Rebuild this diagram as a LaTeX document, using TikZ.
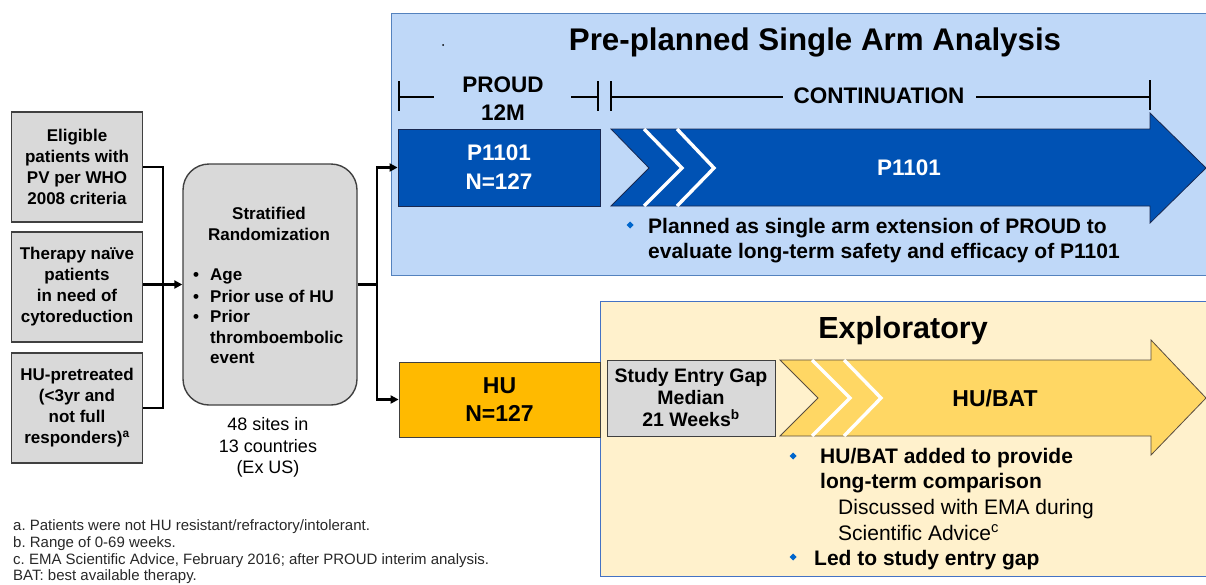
\documentclass[tikz,border=0pt]{standalone}
\usepackage{fontspec}
\setmainfont{Liberation Sans}
\usetikzlibrary{arrows.meta}
\frenchspacing
\definecolor{panelblue}{RGB}{191,216,248}
\definecolor{paneledge}{RGB}{84,130,190}
\definecolor{armblue}{RGB}{0,82,180}
\definecolor{armedge}{RGB}{25,40,80}
\definecolor{cream}{RGB}{255,241,204}
\definecolor{creamedge}{RGB}{68,114,196}
\definecolor{huorange}{RGB}{255,186,0}
\definecolor{batyellow}{RGB}{255,215,100}
\definecolor{boxgray}{RGB}{217,217,217}
\definecolor{boxedge}{RGB}{64,64,64}
\definecolor{dotblue}{RGB}{0,102,204}
\definecolor{notegray}{RGB}{40,40,40}
\newcommand\fsz[2]{\fontsize{#1}{#2}\selectfont}
\begin{document}
\begin{tikzpicture}[x=1pt,y=-1pt,
  graybox/.style={draw=boxedge, line width=1.6pt, fill=boxgray, minimum width=131pt,
    minimum height=110pt, align=center, inner sep=0pt, font=\bfseries\fsz{17}{21}},
  ln/.style={anchor=base west, inner sep=0pt},
  lnc/.style={anchor=base, inner sep=0pt},
  conn/.style={line width=2.4pt},
  tipped/.style={conn, -{Triangle[length=8pt,width=8pt]}},
  bar/.style={line width=2.8pt},
  chev/.style={white, line width=3.4pt},
  bdot/.style={fill=dotblue}]
\useasboundingbox (0,0) rectangle (1206,584);

% ---------- eligibility boxes ----------
\node[graybox] (e1) at (77,167) {Eligible\\patients with\\PV per WHO\\2008 criteria};
\node[graybox] (e2) at (77,287) {Therapy naïve\\patients\\in need of\\cytoreduction};
\node[graybox] (e3) at (77,408) {HU-pretreated\\(<3yr and\\not full\\responders)\textsuperscript{a}};

% ---------- stratified randomization ----------
\node[draw=boxedge, line width=1.4pt, fill=boxgray, rounded corners=26pt,
      minimum width=174pt, minimum height=241pt, inner sep=0pt] (rand) at (270,284.5) {};
\node[lnc, font=\bfseries\fsz{17}{21}] (st1) at (269,219) {Stratified};
\node[lnc, font=\bfseries\fsz{17}{21}] (st2) at (269,240) {Randomization};
\begin{scope}[font=\bfseries\fsz{17}{21}]
  \node[ln] (b1) at (193,280) {•};
  \node[ln] (b2) at (193,302) {•};
  \node[ln] (b3) at (193,322) {•};
  \node[ln] (s1) at (210,280) {Age};
  \node[ln] (s2) at (210,302) {Prior use of HU};
  \node[ln] (s3) at (210,322) {Prior};
  \node[ln] (s4) at (210,343) {thromboembolic};
  \node[ln] (s5) at (210,363) {event};
\end{scope}
\node[lnc, font=\fsz{18}{21.5}] (site1) at (268,430) {48 sites in};
\node[lnc, font=\fsz{18}{21.5}] (site2) at (268,452) {13 countries};
\node[lnc, font=\fsz{18}{21.5}] (site3) at (268,473) {(Ex US)};

% ---------- panels ----------
\path[fill=panelblue, draw=paneledge, line width=1pt] (391,13) rectangle (1210,275);
\path[fill=cream, draw=creamedge, line width=1pt] (600,301) rectangle (1210,576);

\node[lnc, font=\bfseries\fsz{31.3}{36}] (t1) at (815,50) {Pre-planned Single Arm Analysis};
\fill (443,45) circle (1pt);
\node[lnc, font=\bfseries\fsz{30.5}{36}] (t2) at (903,338) {Exploratory};

% timeline brackets
\node[lnc, font=\bfseries\fsz{22.5}{28}] (proud) at (503,92) {PROUD};
\node[lnc, font=\bfseries\fsz{22.5}{28}] (m12) at (503,120) {12M};
\node[lnc, font=\bfseries\fsz{22.5}{28}] (cont) at (879,103) {CONTINUATION};
\draw[bar] (399,81) -- (399,111);
\draw[bar] (399,97) -- (434,97);
\draw[bar] (571,97) -- (598,97);
\draw[bar] (598,81) -- (598,111);
\draw[bar] (611,81) -- (611,111);
\draw[bar] (611,97) -- (783,97);
\draw[bar] (976,97) -- (1150,97);
\draw[bar] (1150,80) -- (1150,110);

% ---------- P1101 arm ----------
\node[draw=armedge, line width=0.8pt, fill=armblue, minimum width=202pt, minimum height=77pt,
      inner sep=0pt, text=white, align=center, font=\bfseries\fsz{22.5}{29}] (p1) at (499,167.5) {P1101\\N=127};
\path[fill=armblue, draw=armedge, line width=0.8pt]
  (611,129) -- (1150,129) -- (1150,113) -- (1206,168) -- (1150,223) -- (1150,206)
  -- (611,206) -- (649,168) -- cycle;
\draw[chev] (644,129) -- (682,168) -- (644,206);
\draw[chev] (677,129) -- (714,168) -- (677,206);
\node[font=\bfseries\fsz{22.5}{28}, text=white] (p2) at (909,168) {P1101};

\path[bdot] (630,225) +(-3.5,0) -- +(0,-3.5) -- +(3.5,0) -- +(0,3.5) -- cycle;
\node[ln, font=\bfseries\fsz{21}{25}] (pl1) at (648,233) {Planned as single arm extension of PROUD to};
\node[ln, font=\bfseries\fsz{21}{25}] (pl2) at (648,258) {evaluate long-term safety and efficacy of P1101};

% ---------- HU arm ----------
\node[draw=boxedge, line width=0.8pt, fill=huorange, minimum width=201pt, minimum height=75pt,
      inner sep=0pt, align=center, font=\bfseries\fsz{23}{28}] (hu) at (499.5,399.5) {HU\\N=127};
\node[draw=boxedge, line width=1pt, fill=boxgray, minimum width=168pt, minimum height=76pt,
      inner sep=0pt, align=center, font=\bfseries\fsz{19.5}{22}] (gap) at (691,398)
      {Study Entry Gap\\Median\\21 Weeks\textsuperscript{b}};
\path[fill=batyellow, draw=boxedge!80!brown, line width=0.8pt]
  (780,360) -- (1151,360) -- (1151,340) -- (1206,398) -- (1151,455) -- (1151,436)
  -- (780,436) -- (818,398) -- cycle;
\draw[chev] (812,360) -- (850,398) -- (812,436);
\draw[chev] (844,360) -- (881,398) -- (844,436);
\node[font=\bfseries\fsz{23}{28}] (bat) at (995,398) {HU/BAT};

\path[bdot] (793,456) +(-3.5,0) -- +(0,-3.5) -- +(3.5,0) -- +(0,3.5) -- cycle;
\path[bdot] (793,557) +(-3.5,0) -- +(0,-3.5) -- +(3.5,0) -- +(0,3.5) -- cycle;
\node[ln, font=\bfseries\fsz{21}{25}] (h1) at (820,463) {HU/BAT added to provide};
\node[ln, font=\bfseries\fsz{21}{25}] (h2) at (820,488) {long-term comparison};
\node[ln, font=\fsz{21}{25}] (h3) at (838,514) {Discussed with EMA during};
\node[ln, font=\fsz{21}{25}] (h4) at (838,540) {Scientific Advice\textsuperscript{c}};
\node[ln, font=\bfseries\fsz{21}{25}] (h5) at (814,565) {Led to study entry gap};

% ---------- connectors ----------
\coordinate (jl) at (163,284.5);
\coordinate (jr) at (377,284.5);
\draw[conn] (e1.east) -| (jl);
\draw[conn] (e3.east) -| (jl);
\draw[tipped] (e2.east |- rand.west) -- (rand.west);
\draw[conn] (rand.east) -- (jr);
\draw[tipped] (jr) |- (p1.west);
\draw[tipped] (jr) |- (hu.west);

% ---------- footnotes ----------
\begin{scope}[font=\fsz{15}{17}, text=notegray]
  \node[ln] (f1) at (13,530) {a. Patients were not HU resistant/refractory/intolerant.};
  \node[ln] (f2) at (13,547) {b. Range of 0-69 weeks.};
  \node[ln] (f3) at (13,564) {c. EMA Scientific Advice, February 2016; after PROUD interim analysis.};
  \node[ln] (f4) at (13,580.5) {BAT: best available therapy.};
\end{scope}
\end{tikzpicture}
\end{document}
